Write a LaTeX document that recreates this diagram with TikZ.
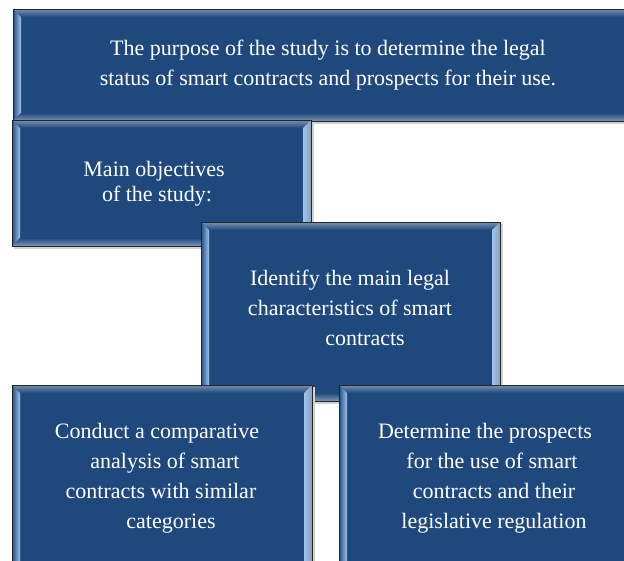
\documentclass[tikz,border=0pt]{standalone}
\usepackage{fontspec}
\setmainfont{Liberation Serif}
\definecolor{mainblue}{RGB}{31,73,125}
\definecolor{bandblue}{RGB}{88,118,160}
\definecolor{lightblue}{RGB}{160,196,236}
\definecolor{edgeblue}{RGB}{36,78,130}
\newcommand{\mybevel}[5]{%
  % #1 name, #2 x1, #3 y1, #4 x2, #5 y2
  \fill[black!18] (#2+2,#3+2) rectangle (#4+3,#5+3);
  \fill[mainblue] (#2,#3) rectangle (#4,#5);
  \shade[top color=bandblue!80!white, bottom color=mainblue]
    (#2,#3) -- (#4,#3) -- (#4-8,#3+8) -- (#2+8,#3+8) -- cycle;
  \shade[left color=edgeblue, right color=lightblue]
    (#2,#3) -- (#2+8,#3+8) -- (#2+8,#5-8) -- (#2,#5) -- cycle;
  \shade[left color=lightblue, right color=bandblue!70!white]
    (#4,#3) -- (#4-8,#3+8) -- (#4-8,#5-8) -- (#4,#5) -- cycle;
  \shade[top color=mainblue, bottom color=bandblue!75!white]
    (#2,#5) -- (#2+8,#5-8) -- (#4-8,#5-8) -- (#4,#5) -- cycle;
  \draw[black!85, line width=1pt] (#2,#3) rectangle (#4,#5);
  \coordinate (#1) at ({(#2+#4)/2},{(#3+#5)/2});
}
\tikzset{
  boxtext/.style={text=white, font=\fontsize{22}{30}\selectfont, align=center, inner sep=0pt}
}
\begin{document}
\begin{tikzpicture}[x=1pt,y=-1pt]
\useasboundingbox (0,0) rectangle (624,560);
\begin{scope}
\clip (0,0) rectangle (624,560);
\mybevel{b1}{13}{9}{632}{121}
\node[boxtext] (t1) at (328,65.5) {The purpose of the study is to determine the legal\\status of smart contracts and prospects for their use.};
\mybevel{b2}{12}{120}{311}{246}
\node[boxtext, font=\fontsize{22}{25}\selectfont] (t2) at (154,184) {Main objectives\\\hspace*{6pt}of the study:};
\mybevel{b3}{201}{222}{500}{401}
\node[boxtext] (t3) at (350,307.5) {Identify the main legal\\characteristics of smart\\\hspace*{30pt}contracts};
\mybevel{b4}{12}{385}{312}{570}
\node[boxtext] (t4) at (157,478) {Conduct a comparative\\\hspace*{16pt}analysis of smart\\\hspace*{8pt}contracts with similar\\\hspace*{28pt}categories};
\mybevel{b5}{339}{385}{632}{570}
\node[boxtext] (t5) at (485,478) {Determine the prospects\\\hspace*{14pt}for the use of smart\\\hspace*{18pt}contracts and their\\\hspace*{18pt}legislative regulation};
\end{scope}
\end{tikzpicture}
\end{document}
